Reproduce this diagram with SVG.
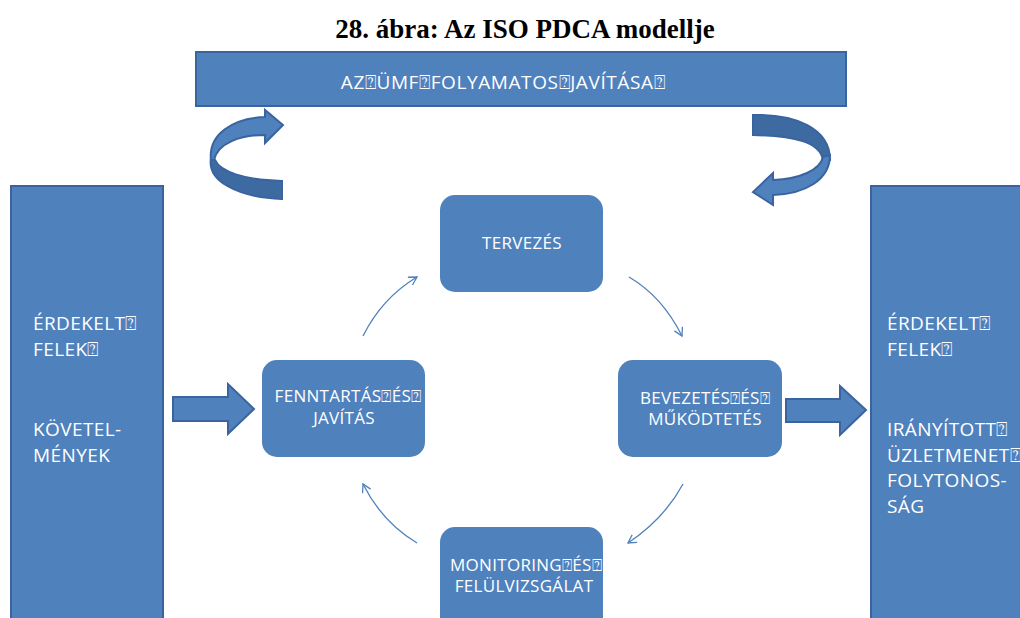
<svg xmlns="http://www.w3.org/2000/svg" width="1020" height="618" viewBox="0 0 1020 618">
  <defs>
    <style>
      .blk { fill: #4f81bd; stroke: #3a64a0; stroke-width: 2; }
      .dark { fill: #3e6aa2; stroke: #3a64a0; stroke-width: 2; }
      .box { fill: #4f81bd; stroke: none; }
      .lbl { font-family: "Open Sans", "Noto Sans", "DejaVu Sans", sans-serif; font-size: 17px; letter-spacing: 0.3px; fill: #ffffff; }
      .ban { font-family: "Open Sans", "Noto Sans", "DejaVu Sans", sans-serif; font-size: 19px; letter-spacing: 0.6px; fill: #ffffff; }
      .side { font-family: "Open Sans", "Noto Sans", "DejaVu Sans", sans-serif; font-size: 19px; letter-spacing: 0.4px; fill: #ffffff; }
      .title { font-family: "Liberation Serif", serif; font-size: 27px; font-weight: bold; fill: #000000; }
      .cyc { fill: none; stroke: #4f81bd; stroke-width: 1.3; }
    </style>
    <marker id="open" markerWidth="12" markerHeight="12" refX="9" refY="5" orient="auto" markerUnits="userSpaceOnUse">
      <path d="M1,0.5 L9,5 L1,9.5" fill="none" stroke="#4f81bd" stroke-width="1.3"/>
    </marker>
  </defs>

  <rect width="1020" height="618" fill="#ffffff"/>

  <text class="title" x="525" y="38" text-anchor="middle">28. ábra: Az ISO PDCA modellje</text>

  <!-- top banner -->
  <g id="banner">
    <rect class="blk" x="196" y="52" width="650" height="54"/>
    <text class="ban" x="503" y="89" text-anchor="middle">AZ⍰ÜMF⍰FOLYAMATOS⍰JAVÍTÁSA⍰</text>
  </g>

  <!-- curved return arrows under the banner -->
  <g id="curl-left">
    <path class="dark" d="M211,158 C207,180 235,197 282,199 L282,181 C245,180 220,172 215,160 Z"/>
    <path class="blk" d="M265,117 L265,110 L283,125 L265,143 L265,135 C240,135 218,143 214,160 L211,160 C208,135 232,118 265,117 Z"/>
  </g>
  <g id="curl-right">
    <path class="dark" d="M753,115 C795,114 830,128 830,160 L823,160 C820,142 795,136 753,135 Z"/>
    <path class="blk" d="M830,155 C830,180 805,194 773,195 L773,205 L753,192 L773,173 L773,180 C800,179 820,170 823,157 Z"/>
  </g>

  <!-- side columns -->
  <g id="stakeholders-in">
    <rect class="blk" x="11" y="186" width="152" height="440"/>
    <text class="side" x="33" y="330">ÉRDEKELT⍰</text>
    <text class="side" x="33" y="356">FELEK⍰</text>
    <text class="side" x="33" y="436">KÖVETEL-</text>
    <text class="side" x="33" y="462">MÉNYEK</text>
  </g>
  <g id="stakeholders-out">
    <rect class="blk" x="871" y="186" width="160" height="440"/>
    <text class="side" x="887" y="330">ÉRDEKELT⍰</text>
    <text class="side" x="887" y="356">FELEK⍰</text>
    <text class="side" x="887" y="436">IRÁNYÍTOTT⍰</text>
    <text class="side" x="887" y="462">ÜZLETMENET⍰</text>
    <text class="side" x="887" y="487">FOLYTONOS-</text>
    <text class="side" x="887" y="513">SÁG</text>
  </g>

  <!-- block arrows in / out -->
  <g id="arrow-in">
    <path class="blk" d="M173,397 L228,397 L228,384 L254,409 L228,434 L228,421 L173,421 Z"/>
  </g>
  <g id="arrow-out">
    <path class="blk" d="M786,399 L840,399 L840,386 L866,410 L840,435 L840,422 L786,422 Z"/>
  </g>

  <!-- PDCA steps -->
  <g id="plan">
    <rect class="box" x="440" y="195" width="163" height="97" rx="15"/>
    <text class="lbl" x="522" y="249" text-anchor="middle">TERVEZÉS</text>
  </g>
  <g id="do">
    <rect class="box" x="618" y="360" width="164" height="97" rx="15"/>
    <text class="lbl" x="705" y="404" text-anchor="middle">BEVEZETÉS⍰ÉS⍰</text>
    <text class="lbl" x="705" y="425" text-anchor="middle">MŰKÖDTETÉS</text>
  </g>
  <g id="check">
    <rect class="box" x="440" y="527" width="163" height="110" rx="15"/>
    <text class="lbl" x="526" y="571" text-anchor="middle">MONITORING⍰ÉS⍰</text>
    <text class="lbl" x="524" y="592" text-anchor="middle">FELÜLVIZSGÁLAT</text>
  </g>
  <g id="act">
    <rect class="box" x="262" y="360" width="163" height="97" rx="15"/>
    <text class="lbl" x="348" y="402" text-anchor="middle">FENNTARTÁS⍰ÉS⍰</text>
    <text class="lbl" x="344" y="424" text-anchor="middle">JAVÍTÁS</text>
  </g>

  <!-- cycle connectors -->
  <g id="connectors">
    <path class="cyc" d="M363,336 C375,312 392,292 417,277" marker-end="url(#open)"/>
    <path class="cyc" d="M629,277 C653,291 670,312 682,336" marker-end="url(#open)"/>
    <path class="cyc" d="M683,484 C670,508 652,527 628,543" marker-end="url(#open)"/>
    <path class="cyc" d="M417,543 C392,528 375,508 363,484" marker-end="url(#open)"/>
  </g>
</svg>
